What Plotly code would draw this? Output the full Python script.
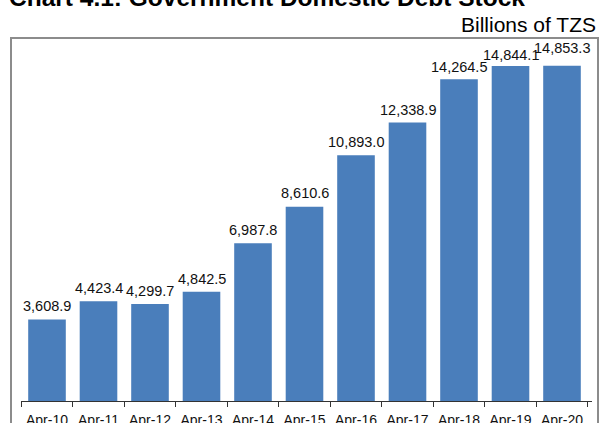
import plotly.graph_objects as go

# Government domestic debt stock, billions of TZS (end of April)
periods = ["Apr-10", "Apr-11", "Apr-12", "Apr-13", "Apr-14", "Apr-15",
           "Apr-16", "Apr-17", "Apr-18", "Apr-19", "Apr-20"]
debt_stock = [3608.9, 4423.4, 4299.7, 4842.5, 6987.8, 8610.6,
              10893.0, 12338.9, 14264.5, 14844.1, 14853.3]
value_labels = [f"{v:,.1f}" for v in debt_stock]
# extra vertical offset (px) of each value label above its bar
label_lift = [4, 3, 3, 3, 3, 4, 3, 3, 2, 1, 8]

W, H = 599, 423
L, R, T, B = 21, 7, 40, 22
plot_w = W - L - R
plot_h = H - T - B

def px_x(x):
    return (x - L) / plot_w

def px_y(y):
    return (H - B - y) / plot_h

fig = go.Figure(go.Bar(
    x=periods,
    y=debt_stock,
    marker=dict(color="#4A7EBB", line=dict(width=0)),
))

value_annotations = [
    dict(x=p, y=v, text=t, xref="x", yref="y",
         xanchor="center", yanchor="bottom", yshift=s, showarrow=False,
         font=dict(size=14.5, color="#111111"))
    for p, v, t, s in zip(periods, debt_stock, value_labels, label_lift)
]

fig.update_layout(
    width=W, height=H,
    margin=dict(l=L, r=R, t=T, b=B),
    paper_bgcolor="white",
    plot_bgcolor="white",
    bargap=0.27,
    showlegend=False,
    font=dict(family="Liberation Sans, Arial", color="#111111"),
    xaxis=dict(
        showline=True, linecolor="#333333", linewidth=1,
        ticks="outside", tickson="boundaries", ticklen=5,
        tickcolor="#333333", showgrid=False,
        automargin=False,
        ticklabelstandoff=6,
        tickfont=dict(size=14, color="#111111"),
    ),
    yaxis=dict(range=[0, 16000], visible=False, fixedrange=True,
               automargin=False),
    shapes=[dict(
        type="rect", xref="paper", yref="paper",
        x0=px_x(11), x1=px_x(598), y0=px_y(440), y1=px_y(38),
        line=dict(color="#8c8c8c", width=2), fillcolor="rgba(0,0,0,0)",
        layer="below",
    )],
    annotations=value_annotations + [
        dict(text="<b>Chart 4.1: Government Domestic Debt Stock</b>",
             xref="paper", yref="paper", x=px_x(7), y=px_y(13),
             xanchor="left", yanchor="bottom", showarrow=False,
             font=dict(size=24.5, color="#000000")),
        dict(text="Billions of TZS",
             xref="paper", yref="paper", x=px_x(598), y=px_y(25),
             xanchor="right", yanchor="middle", showarrow=False,
             font=dict(size=21, color="#000000")),
    ],
)

fig.write_html("out.html")
